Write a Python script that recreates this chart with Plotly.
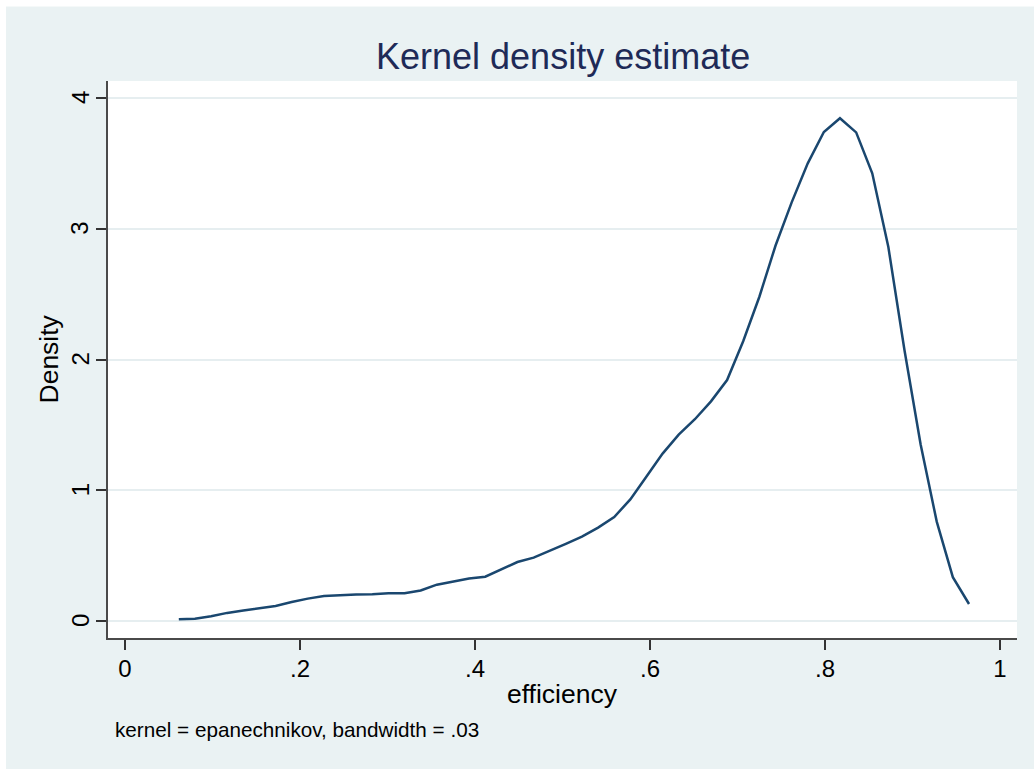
import plotly.graph_objects as go

# ---- data (50 evaluation points of the KDE) ----
x_start = 0.0615
x_step = 0.01843
density = [0.013, 0.018, 0.037, 0.062, 0.080, 0.097, 0.115, 0.145, 0.171, 0.191,
           0.198, 0.202, 0.205, 0.212, 0.212, 0.233, 0.278, 0.304, 0.325, 0.339,
           0.396, 0.451, 0.485, 0.535, 0.590, 0.645, 0.714, 0.795, 0.930, 1.105,
           1.280, 1.425, 1.543, 1.680, 1.843, 2.140, 2.480, 2.870, 3.200, 3.500,
           3.740, 3.845, 3.737, 3.424, 2.860, 2.073, 1.350, 0.760, 0.335, 0.130]
efficiency = [round(x_start + i * x_step, 4) for i in range(len(density))]

x_tickvals = [0, 0.2, 0.4, 0.6, 0.8, 1]
x_ticktext = ["0", ".2", ".4", ".6", ".8", "1"]
y_tickvals = [0, 1, 2, 3, 4]
y_ticktext = ["0", "1", "2", "3", "4"]

title_text = "Kernel density estimate"
x_title = "efficiency"
y_title = "Density"
note_text = "kernel = epanechnikov, bandwidth = .03"

# ---- layout geometry (pixels) ----
W, H = 1034, 769
L, R, T, B = 108, 1017, 81, 638
pw, ph = R - L, B - T

def px(x):
    return (x - L) / pw

def py(y):
    return (B - y) / ph

FONT = "Liberation Sans, Arial, Helvetica, sans-serif"
BG = "#EAF2F3"
NAVY = "#1A476F"

fig = go.Figure()
fig.add_trace(go.Scatter(x=efficiency, y=density, mode="lines",
                         line=dict(color=NAVY, width=2.5), showlegend=False,
                         hoverinfo="skip"))

fig.update_layout(
    width=W, height=H,
    margin=dict(l=L, r=W - R, t=T, b=H - B, pad=0),
    paper_bgcolor=BG, plot_bgcolor="white",
    font=dict(family=FONT, color="black"),
    showlegend=False,
)

fig.update_xaxes(
    range=[(L - 125) / 875, (R - 125) / 875],
    tickvals=x_tickvals, ticktext=x_ticktext,
    showgrid=False, zeroline=False,
    showline=True, linecolor="#4a4a4a", linewidth=1.5,
    ticks="outside", ticklen=10, tickwidth=1.5, tickcolor="#333333",
    tickfont=dict(size=24, family=FONT, color="black"),
    ticklabelstandoff=-2,
)
fig.update_yaxes(
    range=[(621 - B) / 130.75, (621 - T) / 130.75],
    tickvals=y_tickvals,
    showticklabels=False,
    showgrid=True, gridcolor="#E6EEF0", gridwidth=1.5,
    zeroline=False,
    showline=True, linecolor="#4a4a4a", linewidth=1.5,
    ticks="outside", ticklen=10, tickwidth=1.5, tickcolor="#333333",
)

annotations = [
    dict(text=title_text, x=px(562.5), y=py(56.5), xref="paper", yref="paper",
         xanchor="center", yanchor="middle", showarrow=False,
         font=dict(size=36, family=FONT, color="#1E2A57")),
    dict(text=x_title, x=px(562.5), y=py(694), xref="paper", yref="paper",
         xanchor="center", yanchor="middle", showarrow=False,
         font=dict(size=26.5, family=FONT, color="black")),
    dict(text=y_title, x=px(48), y=py(359.5), xref="paper", yref="paper",
         xanchor="center", yanchor="middle", showarrow=False, textangle=-90,
         font=dict(size=26.5, family=FONT, color="black")),
    dict(text=note_text, x=px(113), y=py(729), xref="paper", yref="paper",
         xanchor="left", yanchor="middle", showarrow=False,
         font=dict(size=20.7, family=FONT, color="black")),
]
# rotated y tick labels (Stata style), placed at the tick values
for v, t in zip(y_tickvals, y_ticktext):
    annotations.append(dict(text=t, x=px(80), y=v, xref="paper", yref="y",
                            xanchor="center", yanchor="middle", showarrow=False,
                            textangle=-90,
                            font=dict(size=24, family=FONT, color="black")))
fig.update_layout(annotations=annotations)

# white strips at top and left edges of the image
fig.add_shape(type="rect", xref="paper", yref="paper",
              x0=px(-5), x1=px(W + 5), y0=py(6.5), y1=py(-5),
              fillcolor="white", line=dict(width=0), layer="above")
fig.add_shape(type="rect", xref="paper", yref="paper",
              x0=px(-5), x1=px(6), y0=py(H + 5), y1=py(-5),
              fillcolor="white", line=dict(width=0), layer="above")

fig.write_html(
    "out.html",
    config={"displayModeBar": False},
    post_script="document.body.style.margin='0px';document.body.style.overflow='hidden';",
)
